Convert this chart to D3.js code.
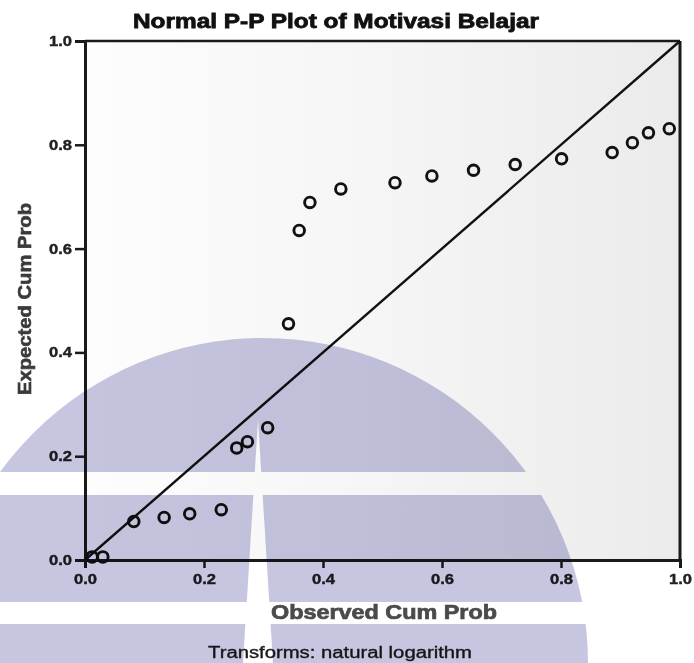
<!DOCTYPE html>
<html>
<head>
<meta charset="utf-8">
<script src="https://cdn.jsdelivr.net/npm/d3@7"></script>
<style>
  html, body { margin: 0; padding: 0; background: #ffffff; }
  svg { display: block; }
  text { font-family: "Liberation Sans", Arial, sans-serif; }
</style>
</head>
<body>
<svg id="chart" width="694" height="663"></svg>
<script>
// ---- data ----
const observedCumProb = [0.012, 0.030, 0.082, 0.133, 0.176, 0.229, 0.255, 0.273, 0.307, 0.342, 0.360,
                         0.378, 0.430, 0.521, 0.583, 0.653, 0.723, 0.801, 0.886, 0.920, 0.947, 0.982];
const expectedCumProb = [0.006, 0.006, 0.074, 0.082, 0.089, 0.097, 0.216, 0.228, 0.255, 0.455, 0.635,
                         0.689, 0.715, 0.727, 0.740, 0.751, 0.762, 0.773, 0.785, 0.804, 0.823, 0.831];
const tickValues = [0.0, 0.2, 0.4, 0.6, 0.8, 1.0];
const referenceLine = [0, 1];
const titleText = "Normal P-P Plot of Motivasi Belajar";
const xTitle = "Observed Cum Prob";
const yTitle = "Expected Cum Prob";
const footnote = "Transforms: natural logarithm";

const svg = d3.select("#chart");
const W = 694, H = 663;
const plot = { left: 85, right: 680, top: 41, bottom: 560 };

const x = d3.scaleLinear().domain([0, 1]).range([plot.left, plot.right]);
const y = d3.scaleLinear().domain([0, 1]).range([plot.bottom, plot.top]);

const defs = svg.append("defs");
const grad = defs.append("linearGradient").attr("id", "plotbg")
  .attr("x1", "0%").attr("y1", "0%").attr("x2", "100%").attr("y2", "0%");
grad.append("stop").attr("offset", "0%").attr("stop-color", "#fdfdfd");
grad.append("stop").attr("offset", "45%").attr("stop-color", "#f6f6f6");
grad.append("stop").attr("offset", "100%").attr("stop-color", "#ebebeb");

// plot background
svg.append("rect")
  .attr("x", plot.left).attr("y", plot.top)
  .attr("width", plot.right - plot.left).attr("height", plot.bottom - plot.top)
  .attr("fill", "url(#plotbg)");

// frame (top and right)
svg.append("line").attr("x1", plot.left).attr("x2", plot.right).attr("y1", plot.top).attr("y2", plot.top)
  .attr("stroke", "#1a1a1a").attr("stroke-width", 2.5);
svg.append("line").attr("x1", plot.right).attr("x2", plot.right).attr("y1", plot.top).attr("y2", plot.bottom)
  .attr("stroke", "#1a1a1a").attr("stroke-width", 3);

// axes
const fmt = d3.format(".1f");
const xAxis = svg.append("g").attr("transform", `translate(0,${plot.bottom})`)
  .call(d3.axisBottom(x).tickValues(tickValues).tickFormat(fmt).tickSize(8).tickPadding(6));
const yAxis = svg.append("g").attr("transform", `translate(${plot.left},0)`)
  .call(d3.axisLeft(y).tickValues(tickValues).tickFormat(fmt).tickSize(10).tickPadding(3));

[xAxis, yAxis].forEach(g => {
  g.select(".domain").attr("stroke", "#1a1a1a").attr("stroke-width", 3);
  g.selectAll(".tick line").attr("stroke", "#1a1a1a").attr("stroke-width", 2.5);
  g.selectAll(".tick text")
    .attr("fill", "#222").attr("stroke", "#222").attr("stroke-width", 0.4)
    .style("font-family", "'Liberation Sans', Arial, sans-serif")
    .style("font-size", "14px").style("font-weight", "bold")
    .attr("textLength", 23).attr("lengthAdjust", "spacingAndGlyphs");
});

// reference line
svg.append("line")
  .attr("x1", x(referenceLine[0])).attr("y1", y(referenceLine[0]))
  .attr("x2", x(referenceLine[1])).attr("y2", y(referenceLine[1]))
  .attr("stroke", "#111").attr("stroke-width", 2.4);

// points
const pts = observedCumProb.map((v, i) => ({ o: v, e: expectedCumProb[i] }));
svg.append("g").selectAll("circle").data(pts).join("circle")
  .attr("cx", d => x(d.o)).attr("cy", d => y(d.e)).attr("r", 5.3)
  .attr("fill", "none").attr("stroke", "#111").attr("stroke-width", 2.9);

// title
svg.append("text").attr("x", 133).attr("y", 28)
  .attr("textLength", 406).attr("lengthAdjust", "spacingAndGlyphs")
  .style("font-size", "20px").style("font-weight", "bold")
  .attr("fill", "#111").attr("stroke", "#111").attr("stroke-width", 0.8)
  .text(titleText);

// x axis title
svg.append("text").attr("x", 271).attr("y", 619)
  .attr("textLength", 226).attr("lengthAdjust", "spacingAndGlyphs")
  .style("font-size", "20px").style("font-weight", "bold")
  .attr("fill", "#4a4a4a").attr("stroke", "#4a4a4a").attr("stroke-width", 0.7)
  .text(xTitle);

// y axis title
svg.append("text")
  .attr("transform", "translate(31,395) rotate(-90)")
  .attr("textLength", 192).attr("lengthAdjust", "spacingAndGlyphs")
  .style("font-size", "18px").style("font-weight", "bold")
  .attr("fill", "#3a3a3a").attr("stroke", "#3a3a3a").attr("stroke-width", 0.6)
  .text(yTitle);

// footnote
svg.append("text").attr("x", 208).attr("y", 658)
  .attr("textLength", 264).attr("lengthAdjust", "spacingAndGlyphs")
  .style("font-size", "16px")
  .attr("fill", "#1a1a1a").attr("stroke", "#1a1a1a").attr("stroke-width", 0.35)
  .text(footnote);

// watermark overlay (scan decoration)
const mask = defs.append("mask").attr("id", "wmMask");
mask.append("rect").attr("x", 0).attr("y", 0).attr("width", W).attr("height", H).attr("fill", "black");
mask.append("circle").attr("cx", 263).attr("cy", 663).attr("r", 325).attr("fill", "white");
mask.append("rect").attr("x", 0).attr("y", 472).attr("width", W).attr("height", 23).attr("fill", "black");
mask.append("rect").attr("x", 0).attr("y", 602).attr("width", W).attr("height", 22).attr("fill", "black");
mask.append("polygon").attr("points", "258,420 273,663 243,663").attr("fill", "black");

svg.append("rect")
  .attr("x", 0).attr("y", 0).attr("width", W).attr("height", H)
  .attr("fill", "#c6c6e1")
  .attr("mask", "url(#wmMask)")
  .style("mix-blend-mode", "multiply");
</script>
</body>
</html>
